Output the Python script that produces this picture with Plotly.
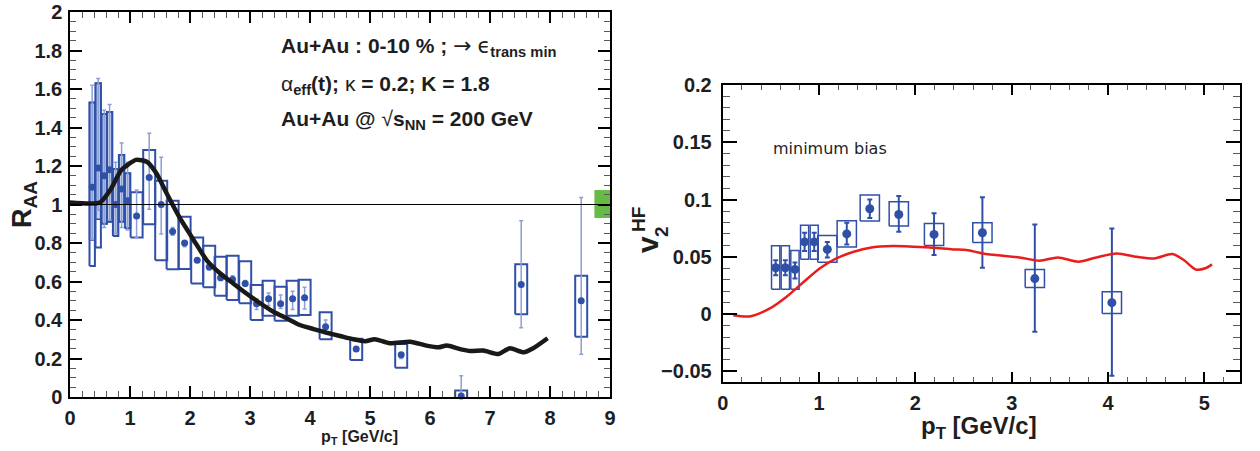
import plotly.graph_objects as go

W, H = 1260, 451
BLUE = "rgb(48,80,168)"
LIGHTBLUE = "rgb(140,160,214)"
FONT = "Liberation Sans"

# ---------------- Left panel: R_AA vs pT ----------------
raa_pt = [0.37, 0.47, 0.57, 0.66, 0.76, 0.86, 0.96, 1.11, 1.32, 1.52, 1.71, 1.91, 2.12, 2.32,
          2.51, 2.71, 2.92, 3.11, 3.31, 3.51, 3.71, 3.91, 4.26, 4.77, 5.52, 6.52, 7.52, 8.52]
raa_val = [1.09, 1.19, 1.15, 1.18, 1.00, 1.08, 1.02, 0.94, 1.14, 1.00, 0.86, 0.80, 0.71, 0.675,
           0.62, 0.61, 0.59, 0.485, 0.51, 0.485, 0.51, 0.515, 0.365, 0.25, 0.22, 0.005, 0.585, 0.50]
raa_stat_hi = [1.62, 1.655, 1.49, 1.52, 1.22, 1.32, 1.22, 1.075, 1.37, 1.245, 0.88, 0.81, 0.72, 0.69,
               0.635, 0.63, 0.605, 0.51, 0.54, 0.53, 0.55, 0.57, 0.40, 0.26, 0.23, 0.11, 0.915, 1.037]
raa_stat_lo = [0.82, 0.97, 0.88, 0.92, 0.85, 0.88, 0.868, 0.83, 0.975, 0.847, 0.84, 0.78, 0.70, 0.66,
               0.605, 0.595, 0.575, 0.455, 0.475, 0.46, 0.455, 0.457, 0.33, 0.24, 0.20, 0.0, 0.36, 0.222]
raa_sys_hi = [1.53, 1.63, 1.47, 1.48, 1.185, 1.257, 1.162, 1.063, 1.283, 1.124, 1.02, 0.937, 0.828, 0.786,
              0.729, 0.734, 0.705, 0.582, 0.604, 0.573, 0.604, 0.609, 0.44, 0.303, 0.275, 0.034, 0.689, 0.63]
raa_sys_lo = [0.68, 0.776, 0.90, 0.91, 0.836, 0.91, 0.876, 0.828, 0.897, 0.71, 0.663, 0.665, 0.59, 0.57,
              0.526, 0.504, 0.487, 0.40, 0.422, 0.396, 0.422, 0.426, 0.30, 0.192, 0.152, -0.05, 0.43, 0.313]
raa_halfw = [0.045] * 7 + [0.1] * 21
# lower edge of the shaded (overlapping) part of the first boxes
raa_shade_lo = [0.816, 0.923, 0.90, 0.91, 0.836, 0.91, 0.876]

model_raa_pt = [0, 0.5, 0.67, 0.86, 1.1, 1.28, 1.44, 1.61, 1.83, 2.06, 2.28, 2.5, 2.72, 2.94, 3.17,
                3.39, 3.61, 3.83, 4.06, 4.28, 4.5, 4.72, 4.92, 5.08, 5.33, 5.67, 5.94, 6.14, 6.28,
                6.5, 6.67, 6.89, 7.14, 7.33, 7.56, 7.72, 7.96]
model_raa = [1.01, 1.01, 1.075, 1.18, 1.232, 1.222, 1.162, 1.058, 0.93, 0.816, 0.71, 0.643, 0.59,
             0.538, 0.487, 0.443, 0.409, 0.374, 0.353, 0.334, 0.317, 0.30, 0.29, 0.30, 0.279, 0.287,
             0.267, 0.258, 0.267, 0.249, 0.239, 0.241, 0.223, 0.253, 0.232, 0.253, 0.305]

norm_box_x = [8.74, 9.0]
norm_box_y = [0.93, 1.075]

# ---------------- Right panel: v2 vs pT ----------------
v2_pt = [0.55, 0.65, 0.75, 0.85, 0.95, 1.086, 1.288, 1.527, 1.828, 2.194, 2.696, 3.24, 4.04]
v2_val = [0.0405, 0.0405, 0.039, 0.063, 0.063, 0.0565, 0.070, 0.092, 0.087, 0.0696, 0.071, 0.031, 0.010]
v2_stat_hi = [0.047, 0.047, 0.045, 0.071, 0.071, 0.063, 0.0797, 0.100, 0.103, 0.088, 0.102, 0.0783, 0.0748]
v2_stat_lo = [0.034, 0.034, 0.031, 0.055, 0.055, 0.0495, 0.0608, 0.084, 0.072, 0.0515, 0.0405, -0.0155, -0.0539]
v2_sys_hi = [0.0597, 0.0597, 0.0556, 0.0775, 0.0775, 0.0687, 0.0815, 0.104, 0.098, 0.079, 0.0797, 0.039, 0.0195]
v2_sys_lo = [0.0216, 0.0216, 0.0216, 0.048, 0.048, 0.0452, 0.0585, 0.0812, 0.077, 0.060, 0.0626, 0.0233, 0.0006]
v2_halfw = [0.043, 0.043, 0.043, 0.042, 0.042, 0.1, 0.1, 0.1, 0.1, 0.1, 0.1, 0.1, 0.1]

model_v2_pt = [0.11, 0.28, 0.49, 0.66, 0.84, 1.01, 1.18, 1.36, 1.53, 1.77, 1.98, 2.18, 2.39, 2.53, 2.70,
               3.08, 3.29, 3.48, 3.69, 3.88, 4.09, 4.30, 4.48, 4.67, 4.79, 4.91, 5.01, 5.08]
model_v2 = [-0.001, -0.002, 0.005, 0.015, 0.028, 0.040, 0.0486, 0.0544, 0.058, 0.0594, 0.0588, 0.058,
            0.0565, 0.056, 0.053, 0.0495, 0.0466, 0.0495, 0.0457, 0.0495, 0.053, 0.050, 0.0486, 0.0524,
            0.047, 0.039, 0.040, 0.0434]


def boxes(xc, hw, lo, hi):
    xs, ys = [], []
    for x, w, l, h in zip(xc, hw, lo, hi):
        xs += [x - w, x + w, x + w, x - w, x - w, None]
        ys += [l, l, h, h, l, None]
    return xs, ys


def px(xpix):
    return xpix / W


def py(ypix):
    return 1 - ypix / H


fig = go.Figure()

# ---- left panel traces
sx, sy = boxes(raa_pt[:7], raa_halfw[:7], raa_shade_lo, raa_sys_hi[:7])
fig.add_trace(go.Scatter(x=sx, y=sy, mode="lines", fill="toself",
                         fillcolor="rgba(150,170,215,0.55)", line=dict(color=BLUE, width=1.5),
                         xaxis="x", yaxis="y", hoverinfo="skip"))
bx, by = boxes(raa_pt, raa_halfw, raa_sys_lo, raa_sys_hi)
fig.add_trace(go.Scatter(x=bx, y=by, mode="lines", line=dict(color=BLUE, width=2),
                         xaxis="x", yaxis="y", hoverinfo="skip"))
fig.add_trace(go.Scatter(
    x=raa_pt, y=raa_val, mode="markers", xaxis="x", yaxis="y", cliponaxis=False,
    marker=dict(color=BLUE, size=7),
    error_y=dict(type="data", symmetric=False,
                 array=[h - v for h, v in zip(raa_stat_hi, raa_val)],
                 arrayminus=[v - l for v, l in zip(raa_val, raa_stat_lo)],
                 color=LIGHTBLUE, thickness=1.5, width=2)))
fig.add_trace(go.Scatter(
    x=[norm_box_x[0], norm_box_x[1], norm_box_x[1], norm_box_x[0], norm_box_x[0]],
    y=[norm_box_y[0], norm_box_y[0], norm_box_y[1], norm_box_y[1], norm_box_y[0]],
    mode="lines", fill="toself", fillcolor="rgb(102,187,68)", line=dict(width=0, color="rgb(102,187,68)"),
    xaxis="x", yaxis="y", hoverinfo="skip"))
fig.add_trace(go.Scatter(x=model_raa_pt, y=model_raa, mode="lines", xaxis="x", yaxis="y",
                         line=dict(color="rgb(25,25,25)", width=4.5, shape="spline", smoothing=0.6)))

# ---- right panel traces
vx, vy = boxes(v2_pt, v2_halfw, v2_sys_lo, v2_sys_hi)
fig.add_trace(go.Scatter(x=vx, y=vy, mode="lines", line=dict(color=BLUE, width=1.5),
                         xaxis="x2", yaxis="y2", hoverinfo="skip"))
fig.add_trace(go.Scatter(
    x=v2_pt, y=v2_val, mode="markers", xaxis="x2", yaxis="y2",
    marker=dict(color=BLUE, size=9),
    error_y=dict(type="data", symmetric=False,
                 array=[h - v for h, v in zip(v2_stat_hi, v2_val)],
                 arrayminus=[v - l for v, l in zip(v2_val, v2_stat_lo)],
                 color=BLUE, thickness=2, width=2.5)))
fig.add_trace(go.Scatter(x=model_v2_pt, y=model_v2, mode="lines", xaxis="x2", yaxis="y2",
                         line=dict(color="rgb(232,30,30)", width=2.5, shape="spline", smoothing=0.8)))

tickfont = dict(family=FONT, size=20, color="rgb(30,30,30)", weight="bold")


def axis(domain, rng, dtick, mdtick, anchor, ticklen, mlen, lw, standoff):
    return dict(domain=domain, range=rng, dtick=dtick, tick0=0, anchor=anchor, automargin=False,
                ticks="inside", ticklen=ticklen, tickwidth=1.5, tickcolor="black",
                minor=dict(dtick=mdtick, ticks="inside", ticklen=mlen, tickwidth=1.2,
                           tickcolor="rgb(90,90,90)", showgrid=False),
                showline=True, linecolor="black", linewidth=lw, mirror="allticks",
                showgrid=False, zeroline=False, tickfont=tickfont, ticklabelstandoff=standoff)


fig.update_layout(
    width=W, height=H, margin=dict(l=0, r=0, t=0, b=0),
    paper_bgcolor="white", plot_bgcolor="white", showlegend=False,
    xaxis=axis([px(70), px(610)], [0, 9], 1, 0.2, "y", 11, 6, 1.5, 2),
    yaxis=axis([py(397), py(12)], [0, 2], 0.2, 0.05, "x", 12, 6, 1.5, 2),
    xaxis2=axis([px(722.7), px(1240)], [0, 5.37], 1, 0.2, "y2", 10, 5, 2, 2),
    yaxis2=axis([py(381.7), py(85)], [-0.059, 0.2], 0.05, 0.01, "x2", 14, 7, 2, 5),
)

fig.add_shape(type="line", xref="x domain", yref="y", x0=0, x1=1, y0=1, y1=1,
              line=dict(color="black", width=1))

ann = []


def text(x, y, s, size, xanchor="left", angle=0, bold=True, family=FONT, color="rgb(30,30,30)"):
    ann.append(dict(x=px(x), y=py(y), xref="paper", yref="paper", text=s, showarrow=False,
                    xanchor=xanchor, yanchor="middle", textangle=angle,
                    font=dict(family=family, size=size, color=color,
                              weight="bold" if bold else "normal")))


SYM = "font-family:DejaVu Sans;font-weight:normal"
text(279, 46, "Au+Au : 0-10 % ; "
              f"<span style='{SYM};font-size:22px'>→</span> "
              f"<span style='{SYM}'>ϵ</span><sub>trans min</sub>", 21)
text(279, 85, "<span style='font-weight:normal'>α</span><sub>eff</sub>(t); "
              "<span style='font-weight:normal'>κ</span> = 0.2; K = 1.8", 21)
text(279, 120, "Au+Au @ <span style='font-weight:normal'>√</span>s<sub>NN</sub> = 200 GeV", 21)
text(771, 148, "minimum bias", 16, bold=False, family="DejaVu Sans")
text(24, 205, "R<sub>AA</sub>", 27, xanchor="center", angle=-90)
text(359, 437, "p<sub>T</sub> [GeV/c]", 16, xanchor="center")
text(979, 427, "p<sub>T</sub> [GeV/c]", 24, xanchor="center")
text(647, 244, "v", 30, xanchor="center", angle=-90)
text(661, 232, "2", 19, xanchor="center", angle=-90)
text(638, 220, "HF", 19, xanchor="center", angle=-90)

fig.update_layout(annotations=ann)

fig.write_html("out.html")
